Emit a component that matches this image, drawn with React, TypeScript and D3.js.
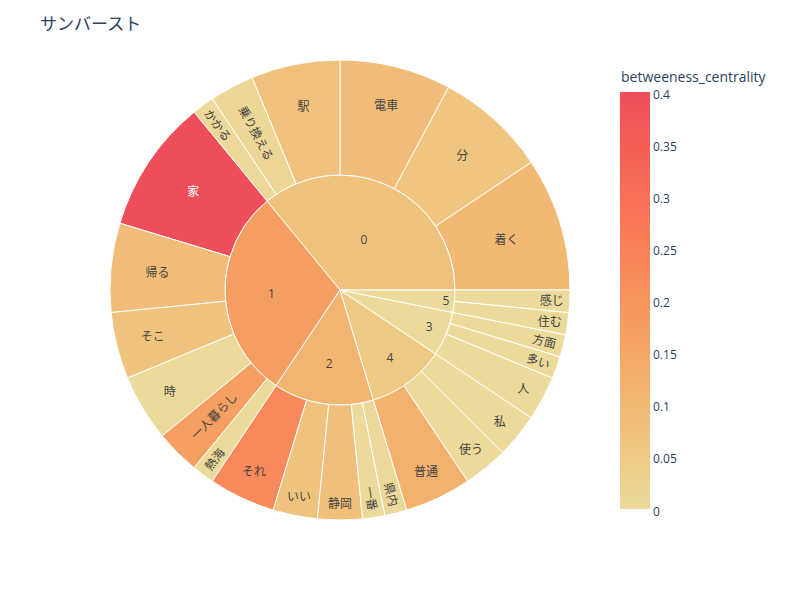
import { useMemo } from 'react';
import * as d3 from 'd3';

// ── data ──
const groupNames = ['0', '1', '2', '4', '3', '5'];
const leafWords = [
  '着く', '分', '電車', '駅', '乗り換える', 'かかる',
  '家', '帰る', 'そこ', '時', '一人暮らし', '熱海',
  'それ', 'いい', '静岡', '一番', '県内',
  '普通', '使う', '私',
  '人', '多い', '方面',
  '住む', '感じ',
];
const leafParents = [
  '0', '0', '0', '0', '0', '0',
  '1', '1', '1', '1', '1', '1',
  '2', '2', '2', '2', '2',
  '4', '4', '4',
  '3', '3', '3',
  '5', '5',
];
const leafCounts = [6, 5, 5, 4, 2, 1, 6, 4, 3, 3, 2, 1, 3, 2, 2, 1, 1, 3, 2, 2, 2, 1, 1, 1, 1];
const leafCentrality = [
  0.1, 0.065, 0.09, 0.075, 0.01, 0.005,
  0.4, 0.09, 0.07, 0, 0.17, 0,
  0.23, 0.07, 0.08, 0, 0.005,
  0.12, 0, 0,
  0, 0, 0,
  0, 0,
];
const colorStops = ['#ecda9a', '#efc47e', '#f3ad6a', '#f7945d', '#f97b57', '#f66356', '#ee4d5a'];
const colorTicks = [0, 0.05, 0.1, 0.15, 0.2, 0.25, 0.3, 0.35, 0.4];
const colorTickLabels = ['0', '0.05', '0.1', '0.15', '0.2', '0.25', '0.3', '0.35', '0.4'];

const W = 800;
const H = 600;
const CX = 340;
const CY = 290;
const R = 230;
const FONT = '"Open Sans", "Noto Sans CJK JP", sans-serif';
const PAD = 3;

interface Node { name: string; count?: number; c?: number; children?: Node[] }

// 글자 폭 추정
function textWidth(s: string, fs: number) {
  let w = 0;
  for (const ch of s) w += ch.charCodeAt(0) > 0x2000 ? fs : fs * 0.57;
  return w;
}

// 부채꼴 안에 들어가는 최대 배율 (math 좌표, y 위쪽)
function maxScale(p: number[], u: number[], w: number, h: number, r0: number, r1: number, a0: number, a1: number) {
  const v = [-u[1], u[0]];
  const d0 = [Math.cos(a0), Math.sin(a0)];
  const d1 = [Math.cos(a1), Math.sin(a1)];
  const fits = (s: number) => {
    const hw = (s * w) / 2, hh = (s * h) / 2;
    for (const sx of [-1, 1]) for (const sy of [-1, 1]) {
      const cx = p[0] + sx * hw * u[0] + sy * hh * v[0];
      const cy = p[1] + sx * hw * u[1] + sy * hh * v[1];
      if (Math.hypot(cx, cy) > r1) return false;
      if (d0[0] * cy - d0[1] * cx < 0) return false;
      if (cx * d1[1] - cy * d1[0] < 0) return false;
    }
    if (r0 > 0) {
      const ox = -(p[0] * u[0] + p[1] * u[1]);
      const oy = -(p[0] * v[0] + p[1] * v[1]);
      const dx = Math.max(Math.abs(ox) - hw, 0), dy = Math.max(Math.abs(oy) - hh, 0);
      if (Math.hypot(dx, dy) < r0) return false;
    }
    return true;
  };
  let lo = 0, hi = 30;
  for (let i = 0; i < 28; i++) {
    const m = (lo + hi) / 2;
    if (fits(m)) lo = m; else hi = m;
  }
  return lo;
}

function normRot(deg: number) {
  let a = ((deg % 180) + 180) % 180;
  if (a > 90) a -= 180;
  return a;
}

function placeLabel(label: string, r0: number, r1: number, a0: number, a1: number) {
  const fs = 12;
  const w = textWidth(label, fs);
  const h = fs * 1.3;
  const m = (a0 + a1) / 2;
  const ri = r0 > 0 ? r0 + PAD : 0;
  const ro = r1 - PAD;
  const dirs: { kind: string; u: number[]; rot: number }[] = [
    { kind: 'h', u: [1, 0], rot: 0 },
    { kind: 'r', u: [Math.cos(m), Math.sin(m)], rot: normRot((-m * 180) / Math.PI) },
    { kind: 't', u: [-Math.sin(m), Math.cos(m)], rot: normRot((-(m + Math.PI / 2) * 180) / Math.PI) },
  ];
  const results = dirs.map((d) => {
    let best = { s: 0, r: (ri + ro) / 2 };
    for (let i = 1; i < 80; i++) {
      const r = ri + ((ro - ri) * i) / 80;
      const s = maxScale([r * Math.cos(m), r * Math.sin(m)], d.u, w, h, ri, ro, a0, a1);
      if (s > best.s) best = { s, r };
    }
    return { ...d, ...best };
  });
  let pick = results[0];
  if (pick.s < 1) pick = results.reduce((a, b) => (b.s > a.s ? b : a));
  return {
    x: CX + pick.r * Math.cos(m),
    y: CY - pick.r * Math.sin(m),
    rot: pick.rot,
    fs: fs * Math.min(1, pick.s),
  };
}

function textColor(c: string) {
  const rgb = d3.rgb(c);
  const b = (rgb.r * 299 + rgb.g * 587 + rgb.b * 114) / 1000;
  return b >= 128 ? '#444' : '#fff';
}

export default function App() {
  const colorScale = useMemo(
    () => d3.scaleLinear<string>()
      .domain(colorStops.map((_, i) => (0.4 * i) / (colorStops.length - 1)))
      .range(colorStops)
      .interpolate(d3.interpolateRgb)
      .clamp(true),
    [],
  );

  const nodes = useMemo(() => {
    const data: Node = {
      name: 'root',
      children: groupNames.map((g) => ({
        name: g,
        children: leafWords
          .map((wd, i) => ({ name: wd, count: leafCounts[i], c: leafCentrality[i], p: leafParents[i] }))
          .filter((l) => l.p === g),
      })),
    };
    const root = d3.hierarchy<Node>(data)
      .sum((d) => d.count ?? 0)
      .sort((a, b) => (b.value ?? 0) - (a.value ?? 0));
    d3.partition<Node>().size([2 * Math.PI, 3])(root);
    const rScale = d3.scaleLinear().domain([1, 3]).range([0, R]);

    return root.descendants().filter((d) => d.depth > 0).map((d: any) => {
      // 부모 색 = 자식 가중 평균
      let c: number;
      if (d.children) {
        const tot = d3.sum(d.leaves(), (l: any) => l.data.count);
        c = d3.sum(d.leaves(), (l: any) => l.data.count * l.data.c) / tot;
      } else {
        c = d.data.c;
      }
      const r0 = rScale(d.y0), r1 = rScale(d.y1);
      const path = d3.arc()({
        innerRadius: r0,
        outerRadius: r1,
        startAngle: Math.PI / 2 - d.x1,
        endAngle: Math.PI / 2 - d.x0,
      } as any) as string;
      const fill = colorScale(c);
      return { key: `${d.depth}-${d.data.name}`, name: d.data.name, path, fill, lab: placeLabel(d.data.name, r0, r1, d.x0, d.x1) };
    });
  }, [colorScale]);

  // 컬러바
  const barX = 620, barW = 30, barTop = 92, barBottom = 509;
  const barScale = d3.scaleLinear().domain([0, 0.4]).range([barBottom, barTop]);

  return (
    <svg width={W} height={H} style={{ position: 'absolute', left: 0, top: 0, background: '#fff' }} fontFamily={FONT}>
      <defs>
        <linearGradient id="cbar" x1="0" y1="1" x2="0" y2="0">
          {colorStops.map((c, i) => (
            <stop key={i} offset={i / (colorStops.length - 1)} stopColor={c} />
          ))}
        </linearGradient>
      </defs>

      <text x={40} y={30} fontSize={17} fill="#2a3f5f">サンバースト</text>

      <g transform={`translate(${CX},${CY})`}>
        {nodes.map((n) => (
          <path key={n.key} d={n.path} fill={n.fill} stroke="#fff" strokeWidth={1} />
        ))}
      </g>
      {nodes.map((n) => (
        <text
          key={`t-${n.key}`}
          transform={`translate(${n.lab.x},${n.lab.y}) rotate(${n.lab.rot})`}
          textAnchor="middle"
          dominantBaseline="central"
          fontSize={n.lab.fs}
          fill={textColor(n.fill)}
        >
          {n.name}
        </text>
      ))}

      <text x={621} y={82} fontSize={14} fill="#2a3f5f">betweeness_centrality</text>
      <rect x={barX} y={barTop} width={barW} height={barBottom - barTop} fill="url(#cbar)" />
      {colorTicks.map((t, i) => (
        <text key={t} x={barX + barW + 3} y={barScale(t) + 2} dominantBaseline="central" fontSize={12} fill="#2a3f5f">
          {colorTickLabels[i]}
        </text>
      ))}
    </svg>
  );
}
